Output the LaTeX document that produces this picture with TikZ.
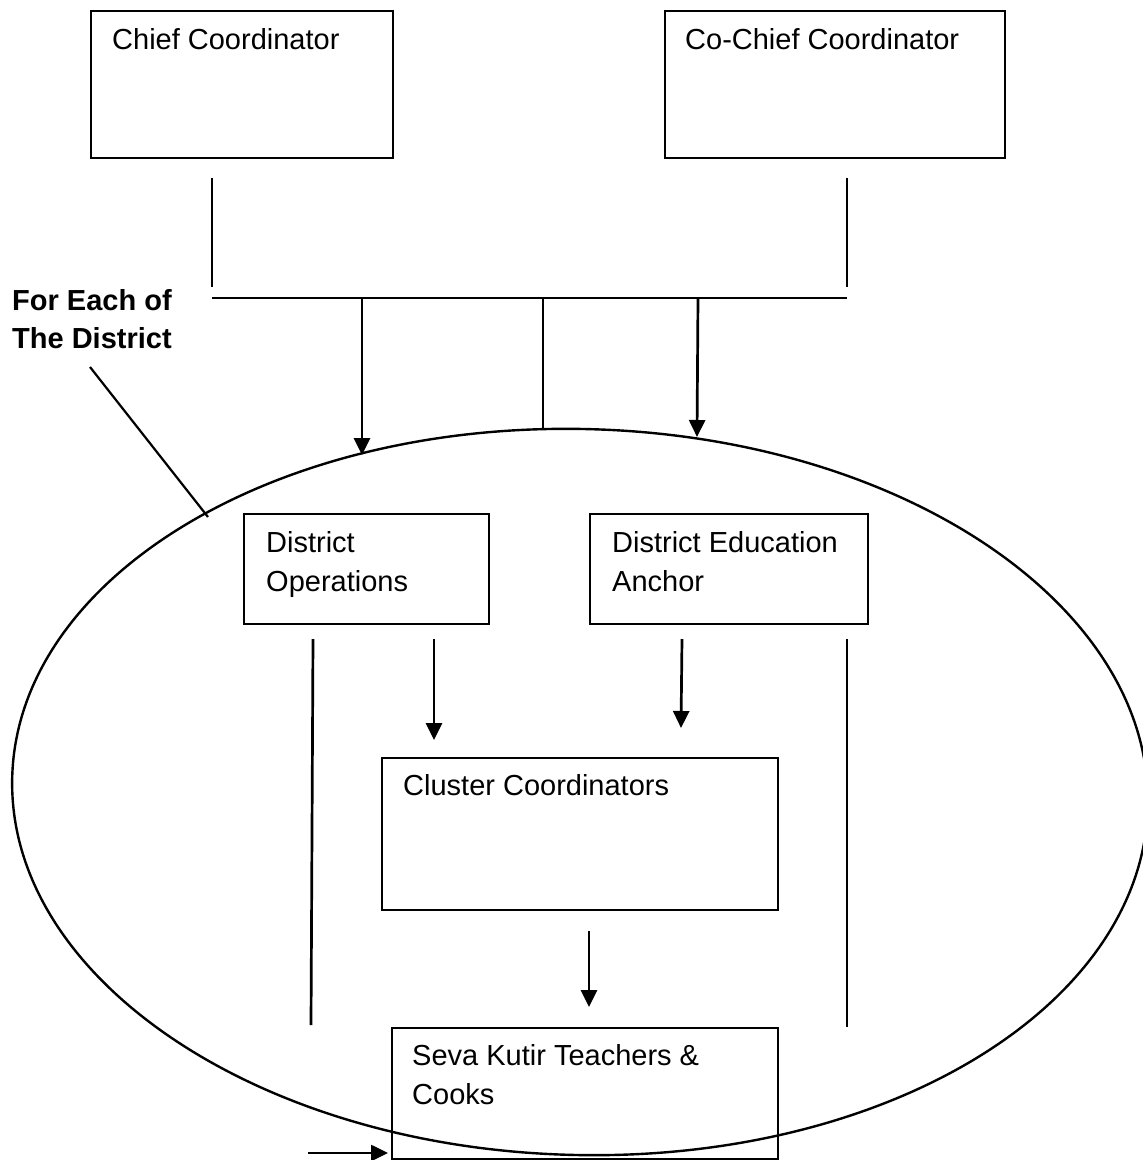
\documentclass[tikz,border=0pt]{standalone}
\usepackage{fontspec}
\setmainfont{Liberation Sans}
\usetikzlibrary{arrows.meta,shapes.geometric}
\begin{document}
\begin{tikzpicture}[x=1pt,y=-1pt,
  box/.style={draw, line width=2.3pt, rectangle, anchor=north west, inner sep=0pt},
  txt/.style={anchor=base west, inner sep=0pt, align=left, font=\fontsize{29}{39}\selectfont},
  ln/.style={line width=2.7pt},
  arr/.style={line width=2.7pt, -{Triangle[length=17pt,width=16pt]}},
]
\useasboundingbox (0,0) rectangle (1143,1160);

% district ellipse
\node[draw, ellipse, line width=2.4pt, minimum width=1136pt, minimum height=726pt,
      inner sep=0pt, rotate=-1.5] (district) at (580,792) {};

% boxes
\node[box, minimum width=302pt, minimum height=147pt] (chief) at (90,10) {};
\node[box, minimum width=340pt, minimum height=147pt] (cochief) at (664,10) {};
\node[box, minimum width=245pt, minimum height=110pt] (dops) at (243,513) {};
\node[box, minimum width=278pt, minimum height=110pt] (dea) at (589,513) {};
\node[box, minimum width=396pt, minimum height=152pt] (cluster) at (381,757) {};
\node[box, minimum width=386pt, minimum height=131pt] (seva) at (391,1027) {};

% texts (base anchor = baseline of the last line)
\node[txt] (chiefT) at (112,49) {Chief Coordinator};
\node[txt] (cochiefT) at (685,49) {Co-Chief Coordinator};
\node[txt] (dopsT) at (266,591) {District\\Operations};
\node[txt] (deaT) at (612,591) {District Education\\Anchor};
\node[txt] (clusterT) at (403,795) {Cluster Coordinators};
\node[txt] (sevaT) at (412,1104) {Seva Kutir Teachers \&\\Cooks};
\node[txt, font=\fontsize{29}{38}\selectfont\bfseries] (each) at (12,348) {For Each of\\The District};

% coordinates
\coordinate (c1a) at (212,178); \coordinate (c1b) at (212,287);
\coordinate (c2a) at (847,178); \coordinate (c2b) at (847,287);
\coordinate (hl) at (212,298); \coordinate (hr) at (847,298);
\coordinate (h1) at (362,298); \coordinate (e1) at (362,455);
\coordinate (h2) at (543,298); \coordinate (e2) at (543,429);
\coordinate (h3) at (698,298); \coordinate (e3) at (697,437);
\coordinate (p1) at (90,367); \coordinate (p2) at (208,517);
\coordinate (l1a) at (313,639); \coordinate (l1b) at (311,1025);
\coordinate (l2a) at (847,639); \coordinate (l2b) at (847,1027);
\coordinate (a1a) at (434,639); \coordinate (a1b) at (434,740);
\coordinate (a2a) at (682,639); \coordinate (a2b) at (681,728);
\coordinate (a3a) at (589,931); \coordinate (a3b) at (589,1007);
\coordinate (a4a) at (308,1153); \coordinate (a4b) at (388,1153);

% connectors
\draw[ln] (c1a) -- (c1b);
\draw[ln] (c2a) -- (c2b);
\draw[ln] (hl) -- (hr);
\draw[arr] (h1) -- (e1);
\draw[ln] (h2) -- (e2);
\draw[arr] (h3) -- (e3);
\draw[line width=2.2pt] (p1) -- (p2);
\draw[ln] (l1a) -- (l1b);
\draw[ln] (l2a) -- (l2b);
\draw[arr] (a1a) -- (a1b);
\draw[arr] (a2a) -- (a2b);
\draw[arr] (a3a) -- (a3b);
\draw[arr] (a4a) -- (a4b);
\end{tikzpicture}
\end{document}
